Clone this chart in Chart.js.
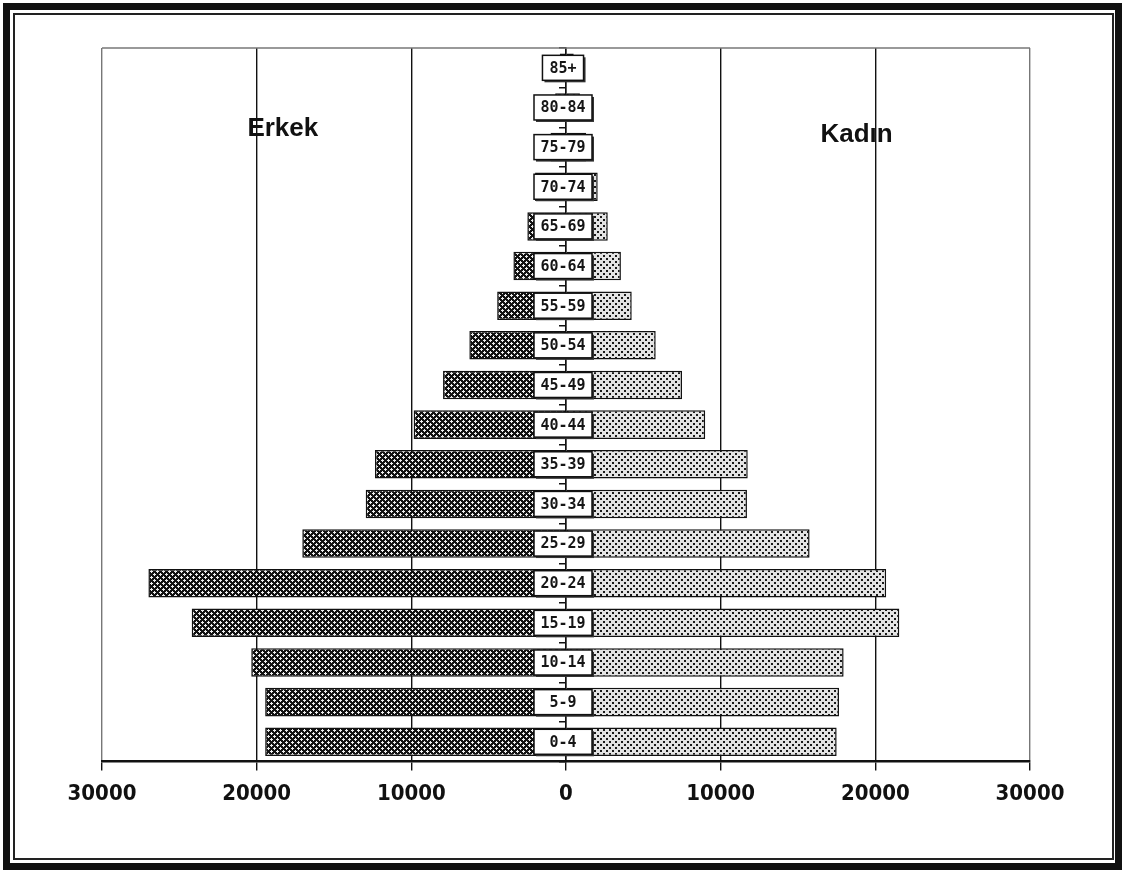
<!DOCTYPE html>
<html>
<head>
<meta charset="utf-8">
<script src="https://cdn.jsdelivr.net/npm/chart.js@4/dist/chart.umd.min.js"></script>
<style>
  html, body { margin: 0; padding: 0; background: #ffffff; }
  #wrap { position: relative; width: 1127px; height: 878px; overflow: hidden; background: #fff; }
  #outer { position: absolute; left: 3px; top: 3px; width: 1119px; height: 867px; box-sizing: border-box; border: 7px solid #111; }
  #inner { position: absolute; left: 13px; top: 13px; width: 1101px; height: 847px; box-sizing: border-box; border: 2px solid #222; }
  canvas { position: absolute; left: 0; top: 0; }
</style>
</head>
<body>
<div id="wrap">
  <div id="outer"></div>
  <div id="inner"></div>
  <canvas id="c" width="1127" height="878"></canvas>
</div>
<script>
const categories = ['85+','80-84','75-79','70-74','65-69','60-64','55-59','50-54','45-49','40-44','35-39','30-34','25-29','20-24','15-19','10-14','5-9','0-4'];
const erkek = [400,700,1000,2000,2500,3400,4450,6250,7950,9850,12350,12950,17050,27000,24200,20350,19450,19450];
const kadin = [500,900,1300,2050,2700,3550,4250,5800,7500,9000,11750,11700,15750,20700,21550,17950,17650,17500];
const xTicks = [-30000,-20000,-10000,0,10000,20000,30000];
const seriesNames = ['Erkek','Kadın'];

function makePattern(size, bg, fg, pts) {
  const c = document.createElement('canvas');
  c.width = size; c.height = size;
  const g = c.getContext('2d');
  g.fillStyle = bg; g.fillRect(0, 0, size, size);
  g.fillStyle = fg;
  pts.forEach(p => g.fillRect(p[0], p[1], p[2], p[3]));
  return g.createPattern(c, 'repeat');
}
const malePattern = makePattern(6, '#121212', '#eeeeee',
  [[1,0,1,1],[0,1,3,1],[1,2,1,1],[4,3,1,1],[3,4,3,1],[4,5,1,1]]);
const femalePattern = makePattern(6, '#e4e4e4', '#1a1a1a',
  [[0,0,2,2],[3,3,2,2]]);

const labelBoxes = {
  id: 'labelBoxes',
  afterDatasetsDraw(chart) {
    const ctx = chart.ctx;
    const xs = chart.scales.x, ys = chart.scales.y;
    const x0 = xs.getPixelForValue(0) - 3;
    ctx.save();
    ctx.font = 'bold 15px "DejaVu Sans Mono", monospace';
    ctx.textAlign = 'center';
    ctx.textBaseline = 'middle';
    categories.forEach((lab, i) => {
      const y = ys.getPixelForValue(i);
      const tw = ctx.measureText(lab).width;
      const w = lab.endsWith('+') ? tw + 14 : 58;
      const h = 25;
      ctx.fillStyle = '#333';
      ctx.fillRect(x0 - w/2 + 2, y - h/2 + 2, w, h);
      ctx.fillStyle = '#fff';
      ctx.fillRect(x0 - w/2, y - h/2, w, h);
      ctx.lineWidth = 1.5;
      ctx.strokeStyle = '#111';
      ctx.strokeRect(x0 - w/2, y - h/2, w, h);
      ctx.fillStyle = '#151515';
      ctx.fillText(lab, x0, y + 1);
    });
    // series headings
    ctx.font = 'bold 26px "Liberation Sans", Arial, sans-serif';
    ctx.textAlign = 'left';
    ctx.textBaseline = 'alphabetic';
    ctx.fillStyle = '#111';
    ctx.fillText(seriesNames[0], xs.getPixelForValue(-20600), ys.getPixelForValue(1.72));
    ctx.fillText(seriesNames[1], xs.getPixelForValue(16450), ys.getPixelForValue(1.86));
    // top border
    ctx.strokeStyle = '#777';
    ctx.lineWidth = 1.5;
    ctx.beginPath();
    ctx.moveTo(chart.chartArea.left, chart.chartArea.top);
    ctx.lineTo(chart.chartArea.right, chart.chartArea.top);
    ctx.stroke();
    ctx.restore();
  }
};

new Chart(document.getElementById('c'), {
  type: 'bar',
  data: {
    labels: categories,
    datasets: [
      { label: seriesNames[0], data: erkek.map(v => -v), backgroundColor: malePattern, borderColor: '#111', borderWidth: 1.5, borderSkipped: false },
      { label: seriesNames[1], data: kadin, backgroundColor: femalePattern, borderColor: '#111', borderWidth: 1.5, borderSkipped: false }
    ]
  },
  options: {
    indexAxis: 'y',
    responsive: false,
    animation: false,
    events: [],
    layout: { padding: { left: 102, right: 97, top: 48, bottom: 61 } },
    plugins: { legend: { display: false }, tooltip: { enabled: false }, title: { display: false } },
    datasets: { bar: { barPercentage: 0.72, categoryPercentage: 1.0 } },
    scales: {
      x: {
        type: 'linear', min: -30000, max: 30000,
        afterBuildTicks: (s) => { s.ticks = xTicks.map(v => ({ value: v })); },
        grid: {
          color: (c) => (c.tick && Math.abs(c.tick.value) === 30000) ? '#777' : '#111',
          lineWidth: 1.4, drawTicks: true, tickLength: 9, tickColor: '#111'
        },
        border: { display: true, color: '#111', width: 2.5 },
        ticks: {
          callback: (v) => String(Math.abs(v)),
          color: '#111', padding: 10, maxRotation: 0, autoSkip: false,
          font: { family: '"DejaVu Sans Condensed", sans-serif', size: 22, weight: 'bold' }
        }
      },
      y: {
        type: 'category', stacked: true,
        position: { x: 0 },
        grid: { display: true, drawOnChartArea: false, drawTicks: true, tickLength: 6, color: '#111', offset: true, lineWidth: 1.5 },
        border: { display: true, color: '#111', width: 1.5 },
        ticks: { display: false }
      }
    }
  },
  plugins: [labelBoxes]
});
</script>
</body>
</html>
